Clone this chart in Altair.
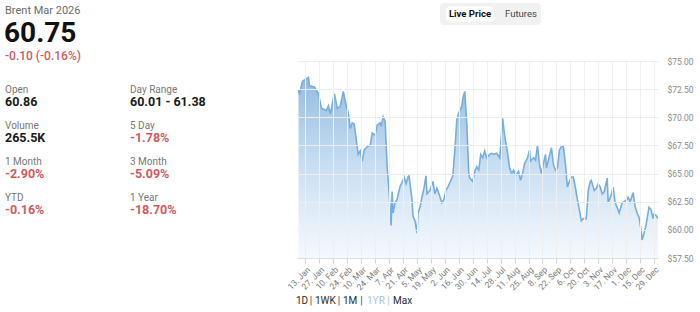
import altair as alt
import pandas as pd

# ---------------- data ----------------
dates = [
    "2025-01-06", "2025-01-07", "2025-01-10", "2025-01-16", "2025-01-17", "2025-01-22", "2025-01-26", "2025-01-29",
    "2025-02-03", "2025-02-05", "2025-02-07", "2025-02-11", "2025-02-14", "2025-02-17", "2025-02-20", "2025-02-23",
    "2025-02-25", "2025-02-27", "2025-03-01", "2025-03-03", "2025-03-05", "2025-03-07", "2025-03-09", "2025-03-11",
    "2025-03-13", "2025-03-16", "2025-03-19", "2025-03-21", "2025-03-24", "2025-03-26", "2025-03-29", "2025-03-30",
    "2025-04-01", "2025-04-03", "2025-04-05", "2025-04-07", "2025-04-09", "2025-04-10", "2025-04-11", "2025-04-13",
    "2025-04-15", "2025-04-18", "2025-04-21", "2025-04-22", "2025-04-24", "2025-04-26", "2025-04-27", "2025-04-30",
    "2025-05-01", "2025-05-03", "2025-05-05", "2025-05-06", "2025-05-08", "2025-05-10", "2025-05-12", "2025-05-14",
    "2025-05-15", "2025-05-18", "2025-05-21", "2025-05-23", "2025-05-25", "2025-05-27", "2025-05-30", "2025-06-01",
    "2025-06-03", "2025-06-05", "2025-06-08", "2025-06-10", "2025-06-12", "2025-06-14", "2025-06-16", "2025-06-19",
    "2025-06-20", "2025-06-22", "2025-06-24", "2025-06-26", "2025-06-27", "2025-06-30", "2025-07-02", "2025-07-04",
    "2025-07-06", "2025-07-08", "2025-07-10", "2025-07-12", "2025-07-14", "2025-07-17", "2025-07-19", "2025-07-21",
    "2025-07-24", "2025-07-27", "2025-07-28", "2025-07-30", "2025-08-01", "2025-08-04", "2025-08-06", "2025-08-08",
    "2025-08-10", "2025-08-12", "2025-08-15", "2025-08-17", "2025-08-19", "2025-08-21", "2025-08-24", "2025-08-26",
    "2025-08-27", "2025-08-30", "2025-09-01", "2025-09-03", "2025-09-05", "2025-09-07", "2025-09-09", "2025-09-11",
    "2025-09-12", "2025-09-14", "2025-09-17", "2025-09-19", "2025-09-21", "2025-09-23", "2025-09-25", "2025-09-27",
    "2025-09-29", "2025-10-01", "2025-10-03", "2025-10-05", "2025-10-07", "2025-10-09", "2025-10-11", "2025-10-13",
    "2025-10-15", "2025-10-17", "2025-10-19", "2025-10-22", "2025-10-24", "2025-10-26", "2025-10-27", "2025-10-30",
    "2025-11-01", "2025-11-03", "2025-11-05", "2025-11-07", "2025-11-09", "2025-11-12", "2025-11-13", "2025-11-16",
    "2025-11-18", "2025-11-20", "2025-11-22", "2025-11-24", "2025-11-27", "2025-11-29", "2025-12-02", "2025-12-03",
    "2025-12-05", "2025-12-08", "2025-12-10", "2025-12-12", "2025-12-14", "2025-12-16", "2025-12-17", "2025-12-19",
    "2025-12-21", "2025-12-23", "2025-12-24", "2025-12-26", "2025-12-28", "2025-12-29", "2025-12-31", "2026-01-02",
]
prices = [
    72.4, 72.1, 73.2, 73.55, 72.8, 72.7, 72.1, 70.8,
    70.6, 71.0, 70.3, 72.1, 70.8, 71.0, 72.3, 71.0,
    70.4, 69.0, 69.5, 69.4, 68.0, 66.7, 67.0, 66.1,
    67.1, 67.4, 67.5, 68.6, 68.4, 69.3, 69.5, 69.2,
    70.05, 69.6, 65.6, 63.3, 60.4, 63.4, 61.5, 62.4,
    62.7, 63.85, 64.4, 64.7, 64.1, 64.7, 64.8, 62.7,
    61.2, 60.8, 59.7, 61.5, 62.0, 62.9, 63.7, 64.8,
    63.2, 63.5, 64.3, 63.2, 63.7, 63.2, 62.4, 62.7,
    63.5, 63.8, 64.4, 64.8, 67.1, 69.8, 70.4, 71.0,
    71.7, 72.3, 69.4, 65.0, 64.6, 64.3, 65.2, 65.6,
    65.3, 66.7, 66.4, 67.0, 66.4, 66.7, 66.8, 66.7,
    66.8, 66.4, 67.4, 69.9, 68.4, 66.8, 65.5, 65.0,
    65.3, 64.8, 65.2, 64.4, 65.0, 65.9, 66.4, 67.1,
    66.1, 66.4, 66.2, 67.5, 65.8, 65.0, 65.9, 66.7,
    65.5, 66.2, 67.3, 65.8, 65.3, 65.5, 67.1, 67.4,
    67.4, 65.9, 63.8, 64.3, 64.7, 64.7, 63.8, 62.7,
    61.8, 60.8, 61.0, 61.0, 63.5, 64.3, 64.4, 63.5,
    63.7, 64.1, 63.8, 63.2, 63.4, 64.6, 62.4, 63.1,
    63.8, 62.4, 62.0, 61.5, 62.4, 62.5, 62.7, 62.9,
    62.5, 63.3, 62.1, 61.5, 61.1, 60.0, 59.1, 59.7,
    60.4, 61.5, 62.0, 61.8, 61.0, 61.4, 61.3, 61.0,
]

tick_dates = [
    "2025-01-13", "2025-01-27", "2025-02-10", "2025-02-24", "2025-03-10", "2025-03-24",
    "2025-04-07", "2025-04-21", "2025-05-05", "2025-05-19", "2025-06-02", "2025-06-16",
    "2025-06-30", "2025-07-14", "2025-07-28", "2025-08-11", "2025-08-25", "2025-09-08",
    "2025-09-22", "2025-10-06", "2025-10-20", "2025-11-03", "2025-11-17", "2025-12-01",
    "2025-12-15", "2025-12-29",
]
y_ticks = [57.5, 60.0, 62.5, 65.0, 67.5, 70.0, 72.5, 75.0]

contract_name = "Brent Mar 2026"
last_price = "60.75"
change_text = "-0.10 (-0.16%)"
stat_labels = ["Open", "Day Range", "Volume", "5 Day", "1 Month", "3 Month", "YTD", "1 Year"]
stat_values = ["60.86", "60.01 - 61.38", "265.5K", "-1.78%", "-2.90%", "-5.09%", "-0.16%", "-18.70%"]
stat_negative = [False, False, False, True, True, True, True, True]
tab_labels = ["Live Price", "Futures"]
range_labels = ["1D", "1WK", "1M", "1YR", "Max"]

# ---------------- layout ----------------
X0, Y0 = 297, 61          # plot-area origin in page pixels
W, H = 361, 197
FONT = "Roboto"
RED = "#cf5a63"


def dt(s, hours=0):
    y, m, d = (int(v) for v in s.split("-"))
    return alt.DateTime(year=y, month=m, date=d, hours=hours, utc=True)


df = pd.DataFrame({"date": dates, "price": prices})
one = pd.DataFrame({"k": [0]})

x_enc = alt.X(
    "date:T",
    scale=alt.Scale(type="utc", domain=[dt("2025-01-04", 12), dt("2026-01-02")]),
    axis=alt.Axis(
        values=[dt(s) for s in tick_dates], format="%-d. %b", labelAngle=-45,
        labelFontSize=8.5, labelColor="#7a7a7a", labelFont=FONT, labelOverlap=False,
        labelFlush=False, labelBound=False, tickColor="#d4d4d4", tickSize=5,
        domainColor="#dddddd", gridColor="#efefef", title=None, labelPadding=2, zindex=1,
    ),
)
y_enc = alt.Y(
    "price:Q",
    scale=alt.Scale(domain=[57.5, 75], zero=False, nice=False),
    axis=alt.Axis(
        orient="right", values=y_ticks, format="$.2f", ticks=False, domain=False,
        labelPadding=9, labelFontSize=8.5, labelColor="#8a8a8a", labelFont=FONT,
        labelOverlap=False, labelFlush=False, labelBound=False,
        gridColor="#eeeeee", title=None, zindex=1,
    ),
)

gradient = alt.Gradient(
    gradient="linear",
    stops=[
        alt.GradientStop(color="rgba(120,170,215,0.80)", offset=0),
        alt.GradientStop(color="rgba(150,195,235,0.10)", offset=1),
    ],
    x1=1, x2=1, y1=0, y2=1,
)

area = alt.Chart(df).mark_area(color=gradient, clip=True).encode(
    x=x_enc, y=y_enc, y2=alt.datum(57.5)
)
line = alt.Chart(df).mark_line(color="#78aedc", strokeWidth=1.6, clip=True).encode(
    x=x_enc, y=y_enc
)


def txt(s, x, y, size, color, weight="normal", align="left", baseline="alphabetic"):
    return alt.Chart(one).mark_text(
        text=s, align=align, baseline=baseline, fontSize=size, color=color,
        fontWeight=weight, font=FONT,
    ).encode(x=alt.value(x - X0), y=alt.value(y - Y0))


def box(x1, y1, x2, y2, fill, radius):
    return alt.Chart(one).mark_rect(color=fill, cornerRadius=radius).encode(
        x=alt.value(x1 - X0), x2=alt.value(x2 - X0), y=alt.value(y1 - Y0), y2=alt.value(y2 - Y0)
    )


layers = [area, line]

# header
layers.append(txt(contract_name, 5, 13.5, 11, "#6b6b6b"))
layers.append(txt(last_price, 4, 41.5, 28, "#111111", weight="bold"))
layers.append(txt(change_text, 5, 60, 12, RED, weight=500))

# stats grid
for i, (lab, val, neg) in enumerate(zip(stat_labels, stat_values, stat_negative)):
    col, row = i % 2, i // 2
    x = 5 if col == 0 else 130
    yb = 93 + row * 36
    layers.append(txt(lab, x, yb, 10, "#777777"))
    layers.append(txt(val, x, yb + 12.5, 12.5, RED if neg else "#1a1a1a", weight="bold"))

# tabs
layers.append(box(440, 3, 541, 25, "#f1f1f1", 4))
layers.append(box(446, 6.5, 494, 21.5, "#ffffff", 4))
layers.append(txt(tab_labels[0], 470, 14, 9.5, "#111111", weight="bold", align="center", baseline="middle"))
layers.append(txt(tab_labels[1], 521, 14, 9.5, "#444444", align="center", baseline="middle"))

# range selector
range_x = [296, 315, 343, 367, 393]
pipe_x = [311, 339, 361.5, 388.5]
for lab, xx in zip(range_labels, range_x):
    layers.append(txt(lab, xx, 301, 10, "#a9c7d2" if lab == "1YR" else "#2b2b2b", baseline="middle"))
for i, xx in enumerate(pipe_x):
    layers.append(txt("|", xx, 301, 10, "#a9c7d2" if i == 3 else "#444444", align="center", baseline="middle"))

chart = alt.layer(*layers).properties(
    width=W, height=H,
    padding={"left": X0, "top": Y0, "right": 700 - X0 - W, "bottom": 312 - Y0 - H},
    autosize=alt.AutoSizeParams(type="none"),
    background="white",
).configure_view(stroke=None)

chart.save("out.html", embed_options={"renderer": "svg", "actions": False})
